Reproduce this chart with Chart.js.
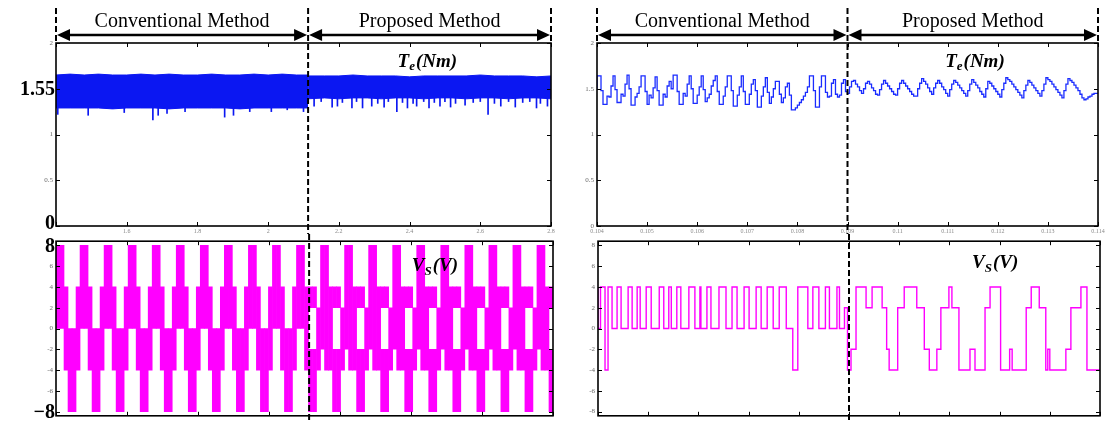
<!DOCTYPE html>
<html>
<head>
<meta charset="utf-8">
<script src="https://cdn.jsdelivr.net/npm/chart.js@4.4.1/dist/chart.umd.min.js"></script>
<style>
  body { margin: 0; background: #fff; width: 1113px; height: 423px; position: relative; overflow: hidden; }
  canvas { position: absolute; }
</style>
</head>
<body>
<canvas id="teLeft" width="560" height="234" style="left:0;top:0"></canvas>
<canvas id="teRight" width="553" height="234" style="left:560px;top:0"></canvas>
<canvas id="vsLeft" width="560" height="189" style="left:0;top:234px"></canvas>
<canvas id="vsRight" width="553" height="189" style="left:560px;top:234px"></canvas>
<script>
// ---- data ----
const methodNames = ['Conventional Method', 'Proposed Method'];
const switchLeft = 2.113;     // change of method, left panels
const switchRight = 0.109;    // change of method, right panels

const xTicksLeft = ['', '1.6', '1.8', '2', '2.2', '2.4', '2.6', '2.8'];
const xTicksRight = ['0.104', '0.105', '0.106', '0.107', '0.108', '0.109', '0.11', '0.111', '0.112', '0.113', '0.114'];
const yTicksTe = ['0', '0.5', '1', '1.5', '2'];

// Te, long window: envelope of the ripple band
const teBandConvT = [1.40, 1.44, 1.48, 1.52, 1.56, 1.60, 1.64, 1.68, 1.72, 1.76, 1.80, 1.84, 1.88, 1.92, 1.96, 2.00, 2.04, 2.08, 2.113];
const teBandConvHi = [1.65, 1.66, 1.65, 1.66, 1.65, 1.65, 1.66, 1.65, 1.66, 1.65, 1.65, 1.66, 1.65, 1.65, 1.66, 1.65, 1.66, 1.65, 1.65];
const teBandConvLo = [1.29, 1.29, 1.29, 1.29, 1.28, 1.29, 1.29, 1.29, 1.28, 1.29, 1.29, 1.29, 1.29, 1.28, 1.29, 1.29, 1.29, 1.29, 1.29];
const teBandPropT = [2.113, 2.16, 2.20, 2.24, 2.28, 2.32, 2.36, 2.40, 2.44, 2.48, 2.52, 2.56, 2.60, 2.64, 2.68, 2.72, 2.76, 2.80];
const teBandPropHi = [1.64, 1.64, 1.64, 1.65, 1.64, 1.64, 1.64, 1.63, 1.64, 1.64, 1.64, 1.64, 1.65, 1.64, 1.64, 1.64, 1.63, 1.64];
const teBandPropLo = [1.39, 1.40, 1.39, 1.40, 1.40, 1.39, 1.40, 1.40, 1.39, 1.40, 1.40, 1.39, 1.40, 1.40, 1.39, 1.40, 1.40, 1.39];
// downward spikes below the band
const teSpikeT = [1.405, 1.491, 1.593, 1.674, 1.689, 1.714, 1.765, 1.877, 1.902, 1.948, 2.009, 2.054, 2.100,
  2.130, 2.150, 2.181, 2.196, 2.210, 2.237, 2.250, 2.267, 2.293, 2.310, 2.328, 2.340, 2.364, 2.380, 2.394, 2.410,
  2.420, 2.440, 2.455, 2.470, 2.486, 2.500, 2.516, 2.530, 2.557, 2.580, 2.600, 2.622, 2.640, 2.658, 2.680, 2.699,
  2.720, 2.740, 2.759, 2.770, 2.790];
const teSpikeV = [1.22, 1.21, 1.24, 1.16, 1.21, 1.23, 1.25, 1.19, 1.21, 1.25, 1.25, 1.27, 1.25,
  1.31, 1.36, 1.30, 1.31, 1.35, 1.29, 1.36, 1.29, 1.31, 1.34, 1.30, 1.36, 1.25, 1.35, 1.29, 1.34,
  1.31, 1.36, 1.29, 1.35, 1.31, 1.36, 1.30, 1.34, 1.32, 1.35, 1.36, 1.22, 1.34, 1.31, 1.36, 1.30,
  1.35, 1.36, 1.29, 1.34, 1.31];

// Te, short window: samples every 0.04 ms
const teRightStep = 0.00004;
const teRightConv = [
  1.50, 1.64, 1.64, 1.48, 1.33, 1.33, 1.42, 1.41, 1.53, 1.64,
  1.49, 1.35, 1.35, 1.44, 1.42, 1.55, 1.65, 1.50, 1.32, 1.32,
  1.41, 1.45, 1.52, 1.64, 1.64, 1.47, 1.33, 1.43, 1.40, 1.51,
  1.63, 1.48, 1.32, 1.32, 1.44, 1.41, 1.53, 1.58, 1.50, 1.65,
  1.65, 1.47, 1.33, 1.33, 1.45, 1.42, 1.55, 1.64, 1.50, 1.34,
  1.34, 1.43, 1.52, 1.64, 1.49, 1.36, 1.40, 1.44, 1.53, 1.59,
  1.64, 1.47, 1.33, 1.33, 1.42, 1.52, 1.64, 1.64, 1.48, 1.31,
  1.31, 1.43, 1.52, 1.64, 1.47, 1.33, 1.33, 1.44, 1.55, 1.60,
  1.48, 1.30, 1.30, 1.42, 1.52, 1.62, 1.46, 1.34, 1.41, 1.50,
  1.58, 1.58, 1.44, 1.35, 1.40, 1.52, 1.56, 1.43, 1.27, 1.27,
  1.29, 1.32, 1.35, 1.38, 1.42, 1.46, 1.52, 1.64, 1.64, 1.48,
  1.30, 1.30, 1.52, 1.64, 1.64, 1.46, 1.41, 1.42, 1.56, 1.60,
  1.44, 1.41, 1.43, 1.56, 1.60, 1.47];
const teRightProp = [
  1.45, 1.52, 1.58, 1.59, 1.55, 1.52, 1.48, 1.45, 1.50, 1.56,
  1.58, 1.55, 1.51, 1.48, 1.44, 1.43, 1.49, 1.55, 1.59, 1.56,
  1.53, 1.50, 1.47, 1.44, 1.43, 1.50, 1.56, 1.59, 1.56, 1.53,
  1.50, 1.47, 1.44, 1.42, 1.42, 1.50, 1.56, 1.61, 1.58, 1.55,
  1.51, 1.47, 1.44, 1.51, 1.56, 1.59, 1.56, 1.52, 1.49, 1.45,
  1.42, 1.49, 1.55, 1.59, 1.57, 1.54, 1.51, 1.48, 1.45, 1.42,
  1.48, 1.55, 1.60, 1.57, 1.54, 1.51, 1.47, 1.44, 1.41, 1.50,
  1.58, 1.56, 1.53, 1.50, 1.47, 1.44, 1.41, 1.49, 1.56, 1.62,
  1.60, 1.58, 1.55, 1.52, 1.49, 1.46, 1.43, 1.40, 1.48, 1.54,
  1.59, 1.57, 1.54, 1.51, 1.48, 1.45, 1.42, 1.48, 1.55, 1.62,
  1.60, 1.58, 1.55, 1.52, 1.49, 1.46, 1.43, 1.40, 1.48, 1.55,
  1.61, 1.59, 1.57, 1.54, 1.51, 1.48, 1.44, 1.40, 1.38, 1.39,
  1.41, 1.42, 1.44, 1.45, 1.45];

// Vs, long window: switching band per 4-px slot (low / high edge)
const vsLeftStep = 0.01129;
const vsLeftConvHi = [
  8, 8, 4, 0, 0, 4, 8, 8, 4, 0, 0, 4, 8, 8, 4, 0, 0, 4, 8, 8, 4, 0, 0, 4, 8, 8, 4, 0, 0, 4,
  8, 8, 4, 0, 0, 4, 8, 8, 4, 0, 0, 4, 8, 8, 4, 0, 0, 4, 8, 8, 4, 0, 0, 4, 8, 8, 4, 0, 0, 4,
  8, 8, 4];
const vsLeftConvLo = [
  0, 0, -4, -8, -8, -4, 0, 0, -4, -8, -8, -4, 0, 0, -4, -8, -8, -4, 0, 0, -4, -8, -8, -4, 0, 0, -4, -8, -8, -4,
  0, 0, -4, -8, -8, -4, 0, 0, -4, -8, -8, -4, 0, 0, -4, -8, -8, -4, 0, 0, -4, -8, -8, -4, 0, 0, -4, -8, -8, -4,
  0, 0, -4];
// proposed: upper band and a second (lower) band where the middle is open
const vsLeftPropHi = [4, 4, 2,
  8, 8, 4, 4, 4, 2, 8, 8, 4, 4, 4, 2, 8, 8, 4, 4, 4, 2, 8, 8, 4, 4, 4, 2, 8, 8, 4, 4, 4, 2,
  8, 8, 4, 4, 4, 2, 8, 8, 4, 4, 4, 2, 8, 8, 4, 4, 4, 2, 8, 8, 4, 4, 4, 2,
  8, 8, 4, 4];
const vsLeftPropLo = [2, 2, -4,
  -2, -4, -4, 2, 2, -4, -2, -4, -4, 2, 2, -4, -2, -4, -4, 2, 2, -4, -2, -4, -4, 2, 2, -4, -2, -4, -4, 2, 2, -4,
  -2, -4, -4, 2, 2, -4, -2, -4, -4, 2, 2, -4, -2, -4, -4, 2, 2, -4, -2, -4, -4, 2, 2, -4,
  -2, -4, -4, 2];
const vsLeftPropHi2 = [-2, -2, null,
  null, null, null, -2, -2, null, null, null, null, -2, -2, null, null, null, null, -2, -2, null,
  null, null, null, -2, -2, null, null, null, null, -2, -2, null, null, null, null, -2, -2, null,
  null, null, null, -2, -2, null, null, null, null, -2, -2, null, null, null, null, -2, -2, null,
  null, null, null, -2];
const vsLeftPropLo2 = [-8, -8, null,
  null, null, null, -8, -8, null, null, null, null, -8, -8, null, null, null, null, -8, -8, null,
  null, null, null, -8, -8, null, null, null, null, -8, -8, null, null, null, null, -8, -8, null,
  null, null, null, -8, -8, null, null, null, null, -8, -8, null, null, null, null, -8, -8, null,
  null, null, null, -8];

// Vs, short window: switching instants and the level held after each
const vsRightT = [
  0.10400, 0.10405, 0.10414, 0.10420, 0.10428, 0.10438, 0.10446, 0.10460, 0.10468, 0.10478,
  0.10484, 0.10496, 0.10506, 0.10522, 0.10531, 0.10541, 0.10546, 0.10557, 0.10565, 0.10581,
  0.10593, 0.10603, 0.10605, 0.10617, 0.10625, 0.10641, 0.10655, 0.10667, 0.10677, 0.10691,
  0.10701, 0.10715, 0.10725, 0.10737, 0.10749, 0.10761, 0.10775, 0.10788, 0.10798, 0.10818,
  0.10828, 0.10840, 0.10853, 0.10861, 0.10876, 0.10881, 0.10891, 0.10897,
  0.10904, 0.10914, 0.10934, 0.10946, 0.10966, 0.10975, 0.10980, 0.10997, 0.11010, 0.11035,
  0.11050, 0.11060, 0.11075, 0.11083, 0.11099, 0.11105, 0.11119, 0.11141, 0.11151, 0.11171,
  0.11181, 0.11202, 0.11220, 0.11225, 0.11253, 0.11263, 0.11279, 0.11292, 0.11296, 0.11300,
  0.11332, 0.11342, 0.11362, 0.11374, 0.11392, 0.11400];
const vsRightV = [
  4, 0, 4, -4, 4, 0, 4, 0, 4, 0,
  4, 0, 4, 0, 4, 0, 4, 0, 4, 0,
  4, 0, 4, 0, 4, 0, 4, 0, 4, 0,
  4, 0, 4, 0, 4, 0, 4, 0, -4, 4,
  0, 4, 0, 4, 0, 4, 0, 2,
  -4, -2, 4, 2, 4, 2, -2, -4, 2, 4,
  2, -2, -4, -2, 2, 4, 2, -4, -2, -4,
  2, 4, -4, -2, -4, 2, 4, 2, -4, -2,
  -4, -2, 2, 4, -4, -4];

// ---- drawing ----
const serif = '"Liberation Serif", "Times New Roman", serif';

const matlabFrame = {
  id: 'matlabFrame',
  afterDraw(chart, args, o) {
    const ctx = chart.ctx, a = chart.chartArea, x = chart.scales.x, y = chart.scales.y;
    const seg = (x1, y1, x2, y2) => { ctx.beginPath(); ctx.moveTo(x1, y1); ctx.lineTo(x2, y2); ctx.stroke(); };
    ctx.save();
    ctx.strokeStyle = '#000';
    ctx.fillStyle = '#000';
    // inward ticks on all four sides
    ctx.lineWidth = 1;
    x.ticks.forEach(t => {
      const p = Math.round(x.getPixelForValue(t.value)) + 0.5;
      seg(p, a.bottom, p, a.bottom - 4);
      seg(p, a.top, p, a.top + 4);
    });
    y.ticks.forEach(t => {
      const p = Math.round(y.getPixelForValue(t.value)) + 0.5;
      seg(a.left, p, a.left + 4, p);
      seg(a.right, p, a.right - 4, p);
    });
    ctx.lineWidth = 1.6;
    ctx.strokeRect(a.left, a.top, a.right - a.left, a.bottom - a.top);

    // big bold tick values
    ctx.font = 'bold 20px ' + serif;
    ctx.textAlign = 'right';
    ctx.textBaseline = 'middle';
    (o.bold || []).forEach(b => ctx.fillText(b.text, a.left - 1, y.getPixelForValue(b.v) + (b.dy || 0)));

    // quantity label
    if (o.label) {
      const L = o.label;
      let lx = a.left + L.fx * (a.right - a.left);
      const ly = a.top + L.dy;
      ctx.textAlign = 'left';
      ctx.font = 'italic bold 19px ' + serif;
      ctx.fillText(L.main, lx, ly);
      lx += ctx.measureText(L.main).width;
      ctx.font = 'italic bold 13px ' + serif;
      ctx.fillText(L.sub, lx, ly + 5);
      lx += ctx.measureText(L.sub).width + 1;
      ctx.font = 'italic bold 19px ' + serif;
      ctx.fillText(L.rest, lx, ly);
    }

    // dashed divider between the two methods
    const xd = x.getPixelForValue(o.divider);
    ctx.setLineDash([6, 3]);
    ctx.lineWidth = 2;
    seg(xd, o.dividerTop, xd, chart.height);

    if (o.header) {
      seg(a.left, 8, a.left, a.top);
      seg(a.right, 8, a.right, a.top);
      ctx.setLineDash([]);
      const ay = 35;
      const arrow = (x1, x2) => {
        ctx.lineWidth = 2.4;
        seg(x1 + 8, ay, x2 - 8, ay);
        ctx.beginPath();
        ctx.moveTo(x1 + 1, ay); ctx.lineTo(x1 + 14, ay - 6); ctx.lineTo(x1 + 14, ay + 6); ctx.closePath();
        ctx.moveTo(x2 - 1, ay); ctx.lineTo(x2 - 14, ay - 6); ctx.lineTo(x2 - 14, ay + 6); ctx.closePath();
        ctx.fill();
      };
      arrow(a.left, xd);
      arrow(xd, a.right);
      ctx.font = '20px ' + serif;
      ctx.textAlign = 'center';
      ctx.fillText(methodNames[0], (a.left + xd) / 2, 22);
      ctx.fillText(methodNames[1], (xd + a.right) / 2, 22);
    }
    ctx.restore();
  }
};
Chart.register(matlabFrame);

function makeScales(o) {
  return {
    x: {
      type: 'linear', min: o.xMin, max: o.xMax, offset: false,
      grid: { display: false, drawTicks: false, offset: false },
      border: { display: false },
      ticks: {
        stepSize: o.xStep, autoSkip: false, maxRotation: 0, minRotation: 0,
        display: !!o.xLabels, padding: 2,
        font: { family: serif, size: 6 }, color: '#8a8a8a',
        callback: v => o.xLabels ? (o.xLabels[Math.round((v - o.xMin) / o.xStep)] || '') : ''
      },
      afterFit: s => { s.height = o.xHeight; }
    },
    y: {
      min: o.yMin, max: o.yMax,
      grid: { display: false, drawTicks: false },
      border: { display: false },
      ticks: {
        stepSize: o.yStep, includeBounds: false, padding: 3,
        font: { family: serif, size: 7 }, color: '#6a6a6a',
        callback: o.yLabel
      },
      afterFit: s => { s.width = o.yWidth; }
    }
  };
}

const baseOptions = (pad, scales, frame) => ({
  responsive: false,
  animation: false,
  layout: { padding: pad },
  plugins: { legend: { display: false }, tooltip: { enabled: false }, matlabFrame: frame },
  scales: scales
});

const xy = (ts, vs) => ts.map((t, i) => ({ x: t, y: vs[i] }));
const blue = '#0b17f2';
const magenta = '#ff00ff';

// top left: torque, long window
new Chart(document.getElementById('teLeft'), {
  type: 'line',
  data: {
    datasets: [
      { data: xy(teBandConvT, teBandConvHi), borderColor: blue, backgroundColor: blue, borderWidth: 1, pointRadius: 0, fill: '+1' },
      { data: xy(teBandConvT, teBandConvLo), borderColor: blue, borderWidth: 1, pointRadius: 0, fill: false },
      { data: xy(teBandPropT, teBandPropHi), borderColor: blue, backgroundColor: blue, borderWidth: 1, pointRadius: 0, fill: '+1' },
      { data: xy(teBandPropT, teBandPropLo), borderColor: blue, borderWidth: 1, pointRadius: 0, fill: false },
      { type: 'bar', data: teSpikeT.map((t, i) => ({ x: t, y: [teSpikeV[i], 1.45] })), backgroundColor: blue, barThickness: 1, grouped: false }
    ]
  },
  options: baseOptions({ left: 0, right: 9, top: 43, bottom: 0 },
    makeScales({ xMin: 1.4, xMax: 2.8, xStep: 0.2, xLabels: xTicksLeft, xHeight: 8,
      yMin: 0, yMax: 2, yStep: 0.5, yWidth: 56,
      yLabel: v => (v === 0 || v === 1.5) ? '' : yTicksTe[Math.round(v * 2)] }),
    { divider: switchLeft, dividerTop: 8, header: true,
      label: { main: 'T', sub: 'e', rest: '(Nm)', fx: 0.69, dy: 19 },
      bold: [{ v: 1.5, text: '1.55', dy: 1 }, { v: 0, text: '0', dy: -2 }] })
});

// top right: torque, short window
const teRightAll = teRightConv.concat(teRightProp);
new Chart(document.getElementById('teRight'), {
  type: 'line',
  data: {
    datasets: [{
      data: teRightAll.map((v, i) => ({ x: 0.104 + i * teRightStep, y: v })),
      stepped: 'after', borderColor: '#1a2cff', borderWidth: 1.3, pointRadius: 0, fill: false
    }]
  },
  options: baseOptions({ left: 0, right: 15, top: 43, bottom: 0 },
    makeScales({ xMin: 0.104, xMax: 0.114, xStep: 0.001, xLabels: xTicksRight, xHeight: 8,
      yMin: 0, yMax: 2, yStep: 0.5, yWidth: 37,
      yLabel: v => yTicksTe[Math.round(v * 2)] }),
    { divider: switchRight, dividerTop: 8, header: true,
      label: { main: 'T', sub: 'e', rest: '(Nm)', fx: 0.695, dy: 19 } })
});

// bottom left: voltage, long window (floating bars per slot)
const vsLeftHi = vsLeftConvHi.concat(vsLeftPropHi);
const vsLeftLo = vsLeftConvLo.concat(vsLeftPropLo);
const vsLeftHi2 = vsLeftConvHi.map(() => null).concat(vsLeftPropHi2);
const vsLeftLo2 = vsLeftConvLo.map(() => null).concat(vsLeftPropLo2);
const slotX = i => 1.4 + (i + 0.5) * vsLeftStep;
const bandA = vsLeftHi.map((h, i) => ({ x: slotX(i), y: [vsLeftLo[i], h] }));
const bandB = [];
vsLeftHi2.forEach((h, i) => { if (h !== null) bandB.push({ x: slotX(i), y: [vsLeftLo2[i], h] }); });

new Chart(document.getElementById('vsLeft'), {
  type: 'bar',
  data: {
    datasets: [
      { data: bandA, backgroundColor: magenta, borderWidth: 0, barPercentage: 1, categoryPercentage: 1, grouped: false },
      { data: bandB, backgroundColor: magenta, borderWidth: 0, barPercentage: 1, categoryPercentage: 1, grouped: false }
    ]
  },
  options: baseOptions({ left: 0, right: 7, top: 7, bottom: 0 },
    makeScales({ xMin: 1.4, xMax: 2.8, xStep: 0.2, xLabels: null, xHeight: 3,
      yMin: -8.4, yMax: 8.4, yStep: 2, yWidth: 56,
      yLabel: v => Math.abs(v) === 8 ? '' : String(v) }),
    { divider: switchLeft, dividerTop: 0, header: false,
      label: { main: 'V', sub: 'S', rest: '(V)', fx: 0.716, dy: 25 },
      bold: [{ v: 8, text: '8', dy: 1 }, { v: -8, text: '\u22128', dy: 1 }] })
});

// bottom right: voltage, short window
new Chart(document.getElementById('vsRight'), {
  type: 'line',
  data: {
    datasets: [{
      data: xy(vsRightT, vsRightV),
      stepped: 'after', borderColor: magenta, borderWidth: 1.4, pointRadius: 0, fill: false
    }]
  },
  options: baseOptions({ left: 0, right: 13, top: 6, bottom: 0 },
    makeScales({ xMin: 0.104, xMax: 0.114, xStep: 0.001, xLabels: null, xHeight: 3,
      yMin: -8.4, yMax: 8.4, yStep: 2, yWidth: 38,
      yLabel: v => String(v) }),
    { divider: switchRight, dividerTop: 0, header: false,
      label: { main: 'V', sub: 'S', rest: '(V)', fx: 0.745, dy: 22 } })
});
</script>
</body>
</html>
